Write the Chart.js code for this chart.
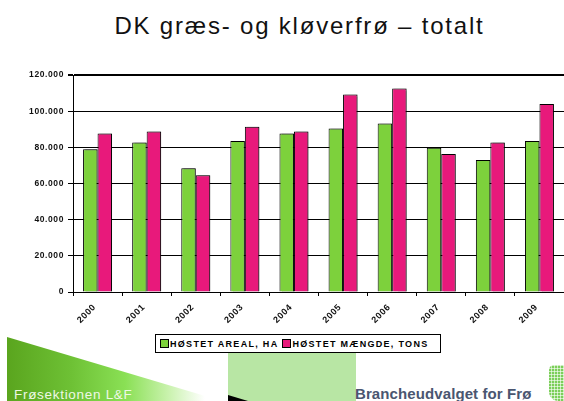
<!DOCTYPE html>
<html lang="da">
  <head>
    <meta charset="UTF-8" />
    <title>DK græs- og kløverfrø – totalt</title>
    <script src="https://cdn.jsdelivr.net/npm/chart.js"></script>
    <style>
      html, body { margin: 0; padding: 0; background: #fff; }
      body { width: 564px; height: 401px; position: relative; overflow: hidden; font-family: "Liberation Sans", Arial, sans-serif; }
      #title { position: absolute; left: 35px; right: 0; top: 14px; line-height: 24px; text-align: center; font-size: 24px; color: #111; letter-spacing: 1.8px; }
      #wrap { position: absolute; left: 0; top: 0; width: 564px; height: 401px; z-index: 2; }
      #legend { position: absolute; left: 155px; top: 334px; width: 280px; height: 17px; border: 1px solid #000; background: #fff; z-index: 3;
        font-size: 9px; font-weight: bold; letter-spacing: 1.3px; display: flex; align-items: center; padding-left: 4px; box-sizing: content-box; }
      #legend span.box { display: inline-block; width: 7px; height: 7px; border: 1px solid #000; margin-right: 1px; vertical-align: -1px; }
      #legend span.item { margin-right: 4px; white-space: nowrap; }
      .deco { position: absolute; z-index: 1; }
      #green { left: 7px; top: 337px; width: 215px; height: 64px; clip-path: polygon(0 0, 100% 100%, 0 100%);
        background: linear-gradient(90deg, #5aa51e 0%, #6ec135 30%, #8ae055 55%, #c9f2ad 75%, #ffffff 92%); }
      #lsec { left: 14px; top: 387px; font-size: 13.5px; color: #eef8e6; letter-spacing: 0.7px; z-index: 2; }
      #lrect { left: 228px; top: 349px; width: 128px; height: 52px; background: #b8e6a4; }
      #wedge { left: 228px; top: 395px; width: 20px; height: 6px; background: #000; clip-path: polygon(0 0, 100% 100%, 0 100%); }
      #brand { left: 355px; top: 385px; font-size: 15px; font-weight: bold; color: #4a5670; letter-spacing: 0.1px; z-index: 2; }
      #logo { left: 549px; top: 365px; width: 15px; height: 36px; border-radius: 5px 0 0 9px;
        background:
          repeating-linear-gradient(90deg, transparent 0 2px, rgba(255,255,255,0.6) 2px 3px),
          repeating-linear-gradient(0deg, transparent 0 2px, rgba(255,255,255,0.6) 2px 3px),
          #7ccf5a; }
    </style>
  </head>
  <body>
    <div id="title">DK græs- og kløverfrø – totalt</div>
    <div class="deco" id="green"></div>
    <div class="deco" id="lsec">Frøsektionen L&amp;F</div>
    <div class="deco" id="lrect"></div>
    <div class="deco" id="wedge"></div>
    <div class="deco" id="brand">Brancheudvalget for Frø</div>
    <div class="deco" id="logo"></div>
    <div id="wrap"><canvas id="chart" width="564" height="401"></canvas></div>
    <div id="legend"></div>
    <script>
      // år
      const years = ["2000", "2001", "2002", "2003", "2004", "2005", "2006", "2007", "2008", "2009"];
      // høstet areal, ha
      const areal = [78900, 82700, 68400, 83500, 87700, 90400, 93200, 79800, 73000, 83500];
      // høstet mængde, tons
      const maengde = [87700, 88800, 64500, 91400, 88800, 109200, 112500, 76300, 82700, 103900];
      const seriesNames = ["HØSTET AREAL, HA", "HØSTET MÆNGDE, TONS"];
      const seriesColors = ["#7dd13c", "#e8197b"];
      const yTicks = [0, 20000, 40000, 60000, 80000, 100000, 120000];

      function fmt(v) {
        if (v == 0) return "0";
        const s = String(v);
        return s.slice(0, s.length - 3) + "." + s.slice(-3);
      }

      // wider letters for the axis labels, soft shadow behind bars
      const looks = {
        id: "looks",
        beforeDraw(chart) {
          chart.ctx.letterSpacing = "0.6px";
        },
        beforeDatasetsDraw(chart) {
          const ctx = chart.ctx;
          ctx.save();
          ctx.shadowColor = "rgba(0,0,0,0.35)";
          ctx.shadowOffsetX = 2;
          ctx.shadowOffsetY = 0;
          ctx.shadowBlur = 1;
        },
        afterDatasetsDraw(chart) {
          chart.ctx.restore();
        },
      };

      const tickFont = { family: "'Liberation Sans', Arial, sans-serif", size: 8.5, weight: "bold" };

      new Chart(document.getElementById("chart"), {
        type: "bar",
        data: {
          labels: years,
          datasets: [
            { label: seriesNames[0], data: areal, backgroundColor: seriesColors[0], borderColor: "#000", borderWidth: 1 },
            { label: seriesNames[1], data: maengde, backgroundColor: seriesColors[1], borderColor: "#000", borderWidth: 1 },
          ],
        },
        options: {
          responsive: false,
          animation: false,
          layout: { padding: { top: 75, left: 0, right: 0, bottom: 0 } },
          plugins: { legend: { display: false }, tooltip: { enabled: false } },
          datasets: { bar: { categoryPercentage: 0.59, barPercentage: 1 } },
          scales: {
            x: {
              grid: { offset: true, drawOnChartArea: false, drawTicks: true, tickLength: 4, color: "#000" },
              border: { color: "#000", width: 1 },
              ticks: { minRotation: 45, maxRotation: 45, font: { ...tickFont, size: 9 }, color: "#111", padding: 6, labelOffset: -3 },
              afterFit(scale) { scale.height = 109; },
            },
            y: {
              min: 0,
              max: 120000,
              afterBuildTicks(scale) { scale.ticks = yTicks.map((v) => ({ value: v })); },
              grid: {
                color: "#000",
                lineWidth: (c) => (c.tick && c.tick.value == 120000 ? 2 : 1),
                tickLength: 5,
              },
              border: { color: "#000", width: 1 },
              ticks: { callback: (v) => fmt(v), font: tickFont, color: "#111", padding: 4 },
              afterFit(scale) { scale.width = 73; },
            },
          },
        },
        plugins: [looks],
      });

      // legend built from the series
      const legend = document.getElementById("legend");
      seriesNames.forEach((n, i) => {
        legend.innerHTML += `<span class="item"><span class="box" style="background:${seriesColors[i]}"></span>${n}</span>`;
      });
    </script>
  </body>
</html>
